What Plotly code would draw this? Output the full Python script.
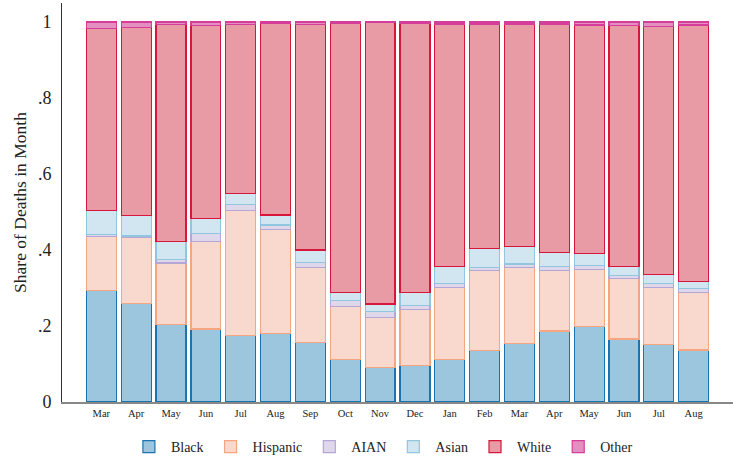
import plotly.graph_objects as go

months = ["Mar", "Apr", "May", "Jun", "Jul", "Aug", "Sep", "Oct", "Nov", "Dec",
          "Jan", "Feb", "Mar", "Apr", "May", "Jun", "Jul", "Aug"]

black    = [.293, .259, .203, .192, .174, .180, .156, .111, .090, .096, .111, .135, .153, .187, .198, .166, .151, .137]
hispanic = [.142, .173, .163, .231, .329, .273, .197, .140, .133, .147, .190, .211, .200, .160, .151, .159, .151, .152]
aian     = [.005, .005, .010, .021, .017, .013, .015, .017, .015, .012, .010, .009, .010, .009, .011, .008, .010, .009]
asian    = [.065, .053, .047, .039, .029, .026, .032, .021, .020, .033, .045, .048, .046, .038, .031, .024, .023, .019]
white    = [.478, .496, .570, .508, .445, .504, .594, .707, .740, .708, .639, .592, .586, .601, .601, .634, .654, .675]
other    = [.017, .014, .007, .009, .006, .004, .006, .004, .002, .004, .005, .005, .005, .005, .008, .009, .011, .008]

y_ticks = [0, 0.2, 0.4, 0.6, 0.8, 1]
y_tick_labels = ["0", ".2", ".4", ".6", ".8", "1"]

series = [
    ("Black", black, "#9cc5de", "#1d72b0"),
    ("Hispanic", hispanic, "#f9d9cd", "#f4a582"),
    ("AIAN", aian, "#ded8ea", "#b4a7d6"),
    ("Asian", asian, "#d2e6f1", "#92c5de"),
    ("White", white, "#e89aa5", "#d6163a"),
    ("Other", other, "#e390c0", "#d43d99"),
]

x = list(range(len(months)))
fig = go.Figure()
for name, vals, fill, line in series:
    fig.add_trace(go.Bar(x=x, y=vals, name=name,
                         marker=dict(color=fill, line=dict(color=line, width=1.2))))

font_family = "Liberation Serif"
fig.update_layout(
    barmode="stack",
    bargap=0.14,
    width=733, height=458,
    margin=dict(l=62, r=0, t=3, b=56, autoexpand=False),
    plot_bgcolor="white", paper_bgcolor="white",
    font=dict(family=font_family, color="#222"),
    showlegend=True,
    legend=dict(orientation="h", x=0.4775, xanchor="center", y=-0.1128, yanchor="middle",
                itemwidth=34,
                font=dict(size=14, family=font_family), traceorder="normal"),
    xaxis=dict(tickvals=x, ticktext=months, range=[-1.13, 18.13],
               showline=True, linecolor="#888", linewidth=1.5,
               showgrid=False, zeroline=False, ticks="", ticklabelstandoff=1,
               tickfont=dict(size=10.5, family=font_family)),
    yaxis=dict(tickvals=y_ticks, ticktext=y_tick_labels, range=[0, 1.05],
               showline=True, linecolor="#333", linewidth=1,
               showgrid=False, zeroline=False, ticks="", ticklen=0, ticklabelstandoff=6,
               tickfont=dict(size=18, family=font_family),
               title=dict(text="Share of Deaths in Month", font=dict(size=17.5, family=font_family), standoff=6)),
)

fig.write_html("out.html", config={"displayModeBar": False},
               post_script="document.body.style.margin='0';")
